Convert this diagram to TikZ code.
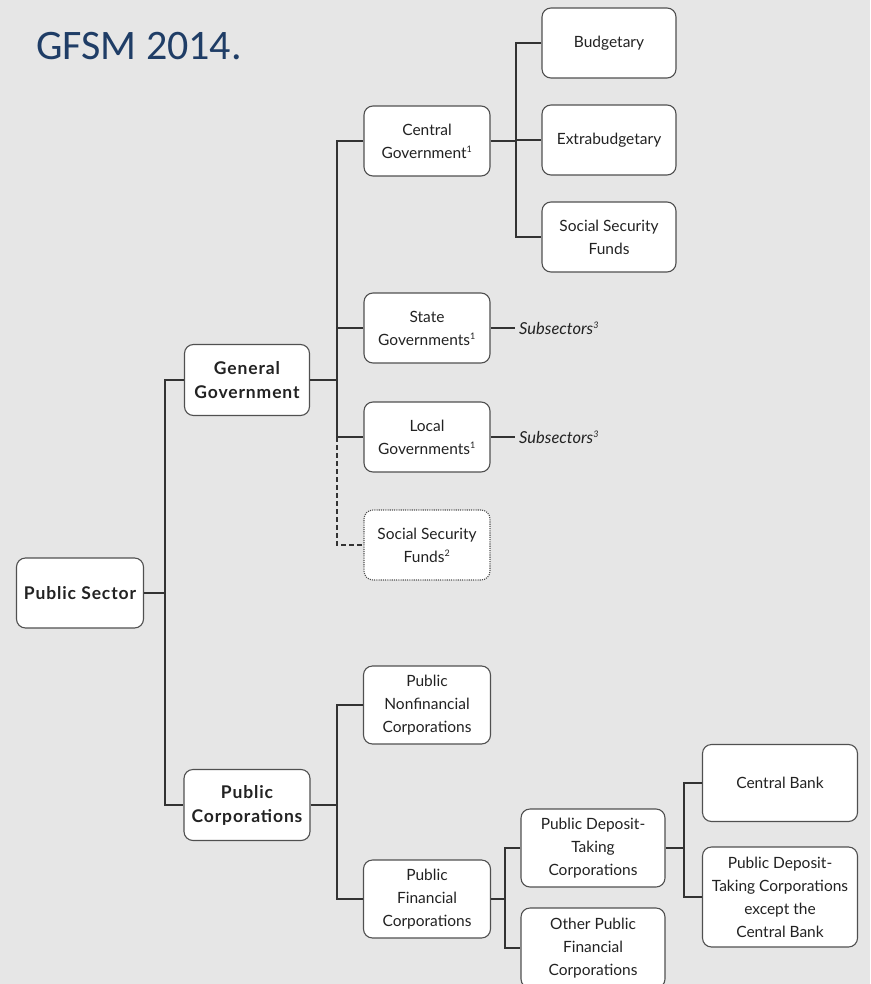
\documentclass[tikz,border=0pt]{standalone}
\usepackage{fontspec}
\setmainfont{Lato}
\newfontfamily\titlefont{Carlito}
\newfontfamily\boldlato[LetterSpace=5]{Lato}
\definecolor{bg}{HTML}{E6E6E6}
\definecolor{boxborder}{HTML}{505050}
\definecolor{linec}{HTML}{333333}
\definecolor{txt}{HTML}{222222}
\definecolor{titleblue}{HTML}{1F3D66}
\newcommand{\mysup}[1]{\textsuperscript{\fontsize{9}{9}\selectfont #1}}
\begin{document}
\begin{tikzpicture}[x=1pt,y=-1pt,
  box/.style={draw=boxborder, fill=white, rounded corners=9pt, line width=1.1pt,
    align=center, inner sep=0pt, text=txt, font=\fontsize{15.5}{23}\selectfont},
  bbox/.style={box, font=\boldlato\fontsize{17.5}{24}\selectfont\bfseries},
  dotbox/.style={box, dash pattern=on 1.1pt off 1.1pt},
  conn/.style={draw=linec, line width=1.2pt},
  dconn/.style={conn, dash pattern=on 5pt off 3pt},
  sub/.style={text=txt, font=\fontsize{16.5}{18}\selectfont\itshape, anchor=west, inner xsep=4pt, inner ysep=0pt}]
\fill[bg] (0,0) rectangle (870,984);
\useasboundingbox (0,0) rectangle (870,984);

\node[text=titleblue, font=\titlefont\fontsize{42}{48}\selectfont, anchor=base west, inner sep=0pt] (title) at (36,60) {GFSM 2014.};

% level 0-1
\node[bbox, minimum width=127pt, minimum height=70pt] (ps) at (80,593) {Public Sector};
\node[bbox, minimum width=125pt, minimum height=71pt] (gg) at (247,380) {General\\Government};
\node[bbox, minimum width=126pt, minimum height=71pt] (pc) at (247,805) {Public\\Corporations};

% general government children
\node[box, minimum width=126pt, minimum height=70pt] (cg) at (427,141) {Central\\Government\mysup{1}};
\node[box, minimum width=126pt, minimum height=70pt] (sg) at (427,328) {State\\Governments\mysup{1}};
\node[box, minimum width=126pt, minimum height=70pt] (lg) at (427,437) {Local\\Governments\mysup{1}};
\node[dotbox, minimum width=126pt, minimum height=70pt] (ssf2) at (427,545) {Social Security\\Funds\mysup{2}};

% central government children
\node[box, minimum width=134pt, minimum height=70pt] (bud) at (609,43) {Budgetary};
\node[box, minimum width=134pt, minimum height=70pt] (ext) at (609,140) {Extrabudgetary};
\node[box, minimum width=134pt, minimum height=70pt] (ssf) at (609,237) {Social Security\\Funds};

\node[sub] (sub1) at (515,328) {Subsectors\mysup{3}};
\node[sub] (sub2) at (515,437) {Subsectors\mysup{3}};

% public corporations children
\node[box, minimum width=127pt, minimum height=78pt] (pnc) at (427,705) {Public\\Nonfinancial\\Corporations};
\node[box, minimum width=127pt, minimum height=78pt] (pfc) at (427,899) {Public\\Financial\\Corporations};

\node[box, minimum width=144pt, minimum height=78pt] (pdtc) at (593,848) {Public Deposit-\\Taking\\Corporations};
\node[box, minimum width=144pt, minimum height=80pt] (opfc) at (593,948) {Other Public\\Financial\\Corporations};

\node[box, minimum width=155pt, minimum height=77pt] (cb) at (780,783) {Central Bank};
\node[box, minimum width=155pt, minimum height=100pt] (pdx) at (780,897) {Public Deposit-\\Taking Corporations\\except the\\Central Bank};

% trunk coordinates
\coordinate (t1) at (165,593);
\coordinate (t2) at (337,380);
\coordinate (t3) at (516,141);
\coordinate (t4) at (337,805);
\coordinate (t5) at (505,899);
\coordinate (t6) at (684,848);

% connectors
\draw[conn] (ps.east) -- (t1);
\draw[conn] (gg.west) -- (gg.west -| t1) -- (pc.west -| t1) -- (pc.west);

\draw[conn] (gg.east) -- (t2);
\draw[conn] (cg.west) -- (cg.west -| t2) -- (lg.west -| t2) -- (lg.west);
\draw[conn] (sg.west) -- (sg.west -| t2);
\draw[dconn] (lg.west -| t2) -- (ssf2.west -| t2) -- (ssf2.west);

\draw[conn] (cg.east) -- (t3);
\draw[conn] (bud.west) -- (bud.west -| t3) -- (ssf.west -| t3) -- (ssf.west);
\draw[conn] (ext.west -| t3) -- (ext.west);

\draw[conn] (sg.east) -- (sub1.west);
\draw[conn] (lg.east) -- (sub2.west);

\draw[conn] (pc.east) -- (t4);
\draw[conn] (pnc.west) -- (pnc.west -| t4) -- (pfc.west -| t4) -- (pfc.west);

\draw[conn] (pfc.east) -- (t5);
\draw[conn] (pdtc.west) -- (pdtc.west -| t5) -- (opfc.west -| t5) -- (opfc.west);

\draw[conn] (pdtc.east) -- (t6);
\draw[conn] (cb.west) -- (cb.west -| t6) -- (pdx.west -| t6) -- (pdx.west);
\end{tikzpicture}
\end{document}
